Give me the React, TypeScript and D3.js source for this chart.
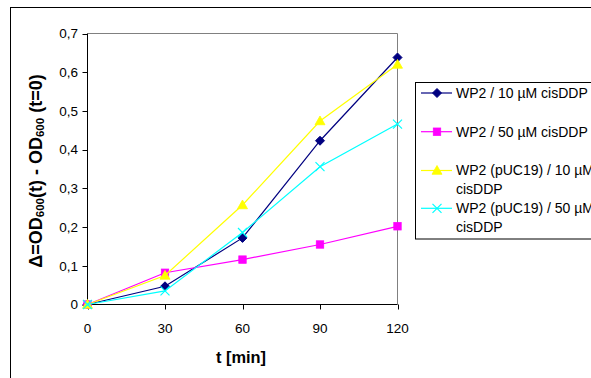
import React from "react";
import * as d3 from "d3";

const times = [0, 30, 60, 90, 120];
const seriesNames = [
  "WP2 / 10 µM cisDDP",
  "WP2 / 50 µM cisDDP",
  "WP2 (pUC19) / 10 µM cisDDP",
  "WP2 (pUC19) / 50 µM cisDDP",
];
const wp2_10 = [0, 0.047, 0.172, 0.423, 0.638];
const wp2_50 = [0, 0.082, 0.116, 0.155, 0.202];
const puc_10 = [0, 0.075, 0.257, 0.474, 0.62];
const puc_50 = [0, 0.035, 0.186, 0.356, 0.466];
const yTicks = [0, 0.1, 0.2, 0.3, 0.4, 0.5, 0.6, 0.7];
const xTicks = [0, 30, 60, 90, 120];

const colors = ["#000080", "#FF00FF", "#FFFF00", "#00FFFF"];
const markers = ["diamond", "square", "triangle", "cross"];
const allSeries = [wp2_10, wp2_50, puc_10, puc_50];
const legendLines = [
  ["WP2 / 10 µM cisDDP"],
  ["WP2 / 50 µM cisDDP"],
  ["WP2 (pUC19) / 10 µM", "cisDDP"],
  ["WP2 (pUC19) / 50 µM", "cisDDP"],
];

function Marker({ type, x, y, color }: { type: string; x: number; y: number; color: string }) {
  if (type === "diamond") {
    const s = 4.5;
    return <path d={`M${x},${y - s}L${x + s},${y}L${x},${y + s}L${x - s},${y}Z`} fill={color} stroke={color} strokeWidth={1} />;
  }
  if (type === "square") {
    const s = 3.7;
    return <rect x={x - s} y={y - s} width={2 * s} height={2 * s} fill={color} stroke={color} strokeWidth={0.8} />;
  }
  if (type === "triangle") {
    const s = 5;
    return <path d={`M${x},${y - s}L${x + s},${y + s * 0.75}L${x - s},${y + s * 0.75}Z`} fill={color} stroke={color} strokeWidth={0.8} />;
  }
  const s = 4.5;
  return (
    <path d={`M${x - s},${y - s}L${x + s},${y + s}M${x - s},${y + s}L${x + s},${y - s}`} stroke={color} strokeWidth={1.2} fill="none" />
  );
}

export default function App() {
  const W = 591, H = 378;
  const left = 87.5, right = 397.5, top = 33.5, bottom = 304.5;
  const x = d3.scaleLinear().domain([0, 120]).range([left, right]);
  const y = d3.scaleLinear().domain([0, 0.7]).range([bottom, top]);
  const line = d3.line<number>().x((_, i) => x(times[i])).y((d) => y(d));
  const fmt = (v: number) => (v === 0 ? "0" : d3.format(".1f")(v).replace(".", ","));

  const legendRows = [93, 131.7, 170.5, 208.3];

  return (
    <svg width={W} height={H} style={{ position: "absolute", left: 0, top: 0, fontFamily: "Arial, 'Liberation Sans', sans-serif" }}>
      <rect x={0} y={0} width={W} height={H} fill="#fff" />
      <rect x={10.5} y={7.5} width={W} height={H} fill="#fff" stroke="#000" strokeWidth={1} />
      {/* plot frame */}
      <line x1={left} y1={top} x2={right} y2={top} stroke="#808080" />
      <line x1={right} y1={top} x2={right} y2={bottom} stroke="#808080" />
      <line x1={left} y1={top} x2={left} y2={bottom} stroke="#000" />
      <line x1={left} y1={bottom} x2={right} y2={bottom} stroke="#000" />
      {yTicks.map((t) => (
        <g key={"y" + t}>
          <line x1={left - 5} x2={left} y1={Math.round(y(t)) + 0.5} y2={Math.round(y(t)) + 0.5} stroke="#000" />
          <text x={78} y={y(t)} dy="0.35em" textAnchor="end" fontSize={13.5} fill="#000">{fmt(t)}</text>
        </g>
      ))}
      {xTicks.map((t) => (
        <g key={"x" + t}>
          <line x1={Math.round(x(t)) + 0.5} x2={Math.round(x(t)) + 0.5} y1={bottom} y2={bottom + 5} stroke="#000" />
          <text x={x(t)} y={328} dy="0.35em" textAnchor="middle" fontSize={13.5} fill="#000">{t}</text>
        </g>
      ))}
      {allSeries.map((s, i) => (
        <g key={"s" + i}>
          <path d={line(s) || ""} fill="none" stroke={colors[i]} strokeWidth={1.2} />
          {s.map((v, j) => (
            <Marker key={j} type={markers[i]} x={x(times[j])} y={y(v)} color={colors[i]} />
          ))}
        </g>
      ))}
      {/* axis titles */}
      <text x={241} y={363} textAnchor="middle" fontSize={16.4} fontWeight="bold" fill="#000">t [min]</text>
      <text transform={`translate(42,171) rotate(-90)`} textAnchor="middle" fontSize={18} fontWeight="bold" fill="#000">
        Δ=OD<tspan fontSize={11.5} dy={2}>600</tspan><tspan dy={-2}>(t) - OD</tspan><tspan fontSize={11.5} dy={2}>600</tspan><tspan dy={-2}> (t=0)</tspan>
      </text>
      {/* legend */}
      <rect x={415.5} y={82.5} width={200} height={156.5} fill="#fff" stroke="#000" />
      {legendRows.map((ry, i) => (
        <g key={"l" + i}>
          <line x1={421} x2={452} y1={ry} y2={ry} stroke={colors[i]} strokeWidth={1.2} />
          <Marker type={markers[i]} x={437} y={ry} color={colors[i]} />
          {legendLines[i].map((t, k) => (
            <text key={k} x={456} y={ry + k * 18.5} dy="0.35em" fontSize={14} fill="#000">{t}</text>
          ))}
        </g>
      ))}
    </svg>
  );
}
